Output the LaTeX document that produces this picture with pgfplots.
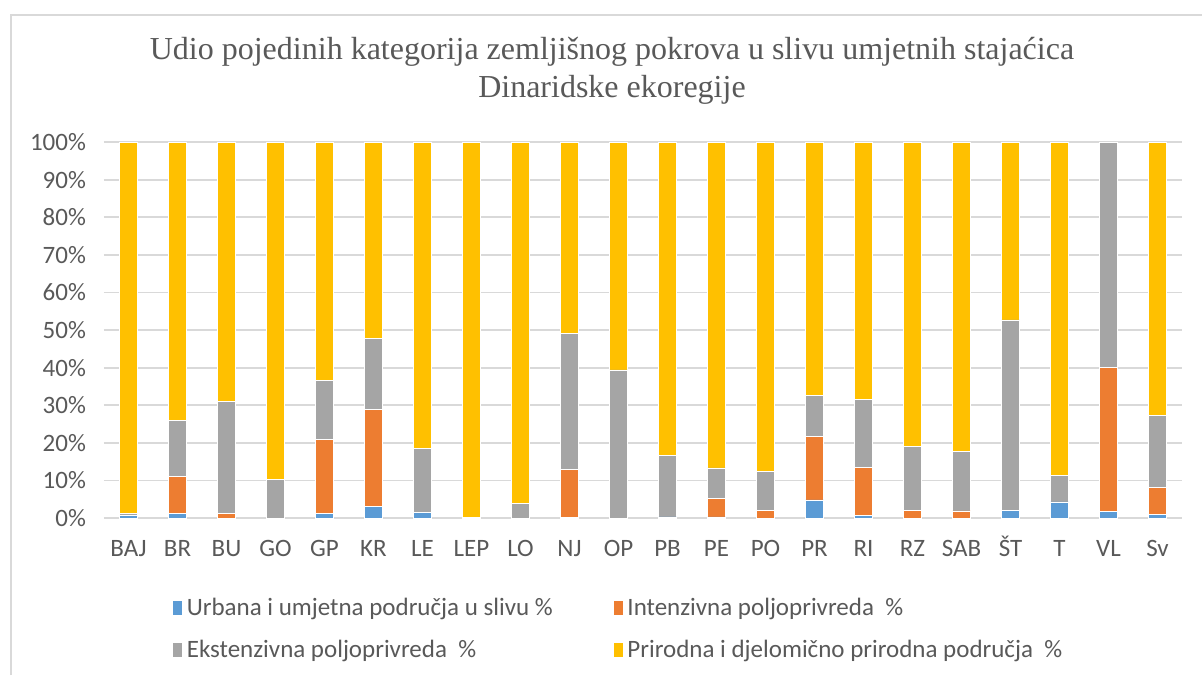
\documentclass[border=0pt]{standalone}
\usepackage{pgfplots}
\pgfplotsset{compat=1.18}
\usepackage{pgfplotstable}
\usepackage{fontspec}
\setmainfont{Carlito}
\newfontfamily\titlefont{Liberation Serif}
\definecolor{cUrb}{HTML}{5B9BD5}
\definecolor{cInt}{HTML}{ED7D31}
\definecolor{cExt}{HTML}{A5A5A5}
\definecolor{cNat}{HTML}{FFC000}
\definecolor{txt}{HTML}{595959}
\definecolor{grd}{HTML}{D9D9D9}

\pgfplotstableread{
x lab urb int ext nat
0  BAJ 0.6 0.0 0.6 98.8
1  BR  1.2 9.8 15.0 74.0
2  BU  0.0 1.2 29.8 69.0
3  GO  0.0 0.0 10.3 89.7
4  GP  1.2 19.8 15.7 63.3
5  KR  3.1 25.8 18.9 52.2
6  LE  1.4 0.0 17.1 81.5
7  LEP 0.0 0.0 0.2 99.8
8  LO  0.0 0.0 3.8 96.2
9  NJ  0.2 12.8 36.1 50.9
10 OP  0.0 0.0 39.4 60.6
11 PB  0.3 0.0 16.3 83.4
12 PE  0.3 4.9 8.1 86.7
13 PO  0.0 2.0 10.3 87.7
14 PR  4.8 16.9 10.9 67.4
15 RI  0.6 12.9 18.0 68.5
16 RZ  0.0 2.0 17.0 81.0
17 SAB 0.0 1.9 15.9 82.2
18 ŠT  2.0 0.0 50.7 47.3
19 T   4.3 0.0 7.0 88.7
20 VL  1.8 38.2 59.8 0.2
21 Sv  0.9 7.2 19.2 72.7
}\datatable

\begin{document}
\begin{tikzpicture}
\begin{axis}[
  name=ax,
  scale only axis,
  width=539pt, height=188pt,
  ybar stacked,
  bar width=9pt,
  xmin=-0.5, xmax=21.5,
  ymin=0, ymax=100,
  xtick=data,
  xticklabels from table={\datatable}{lab},
  ytick={0,10,...,100},
  yticklabel={\pgfmathprintnumber{\tick}\%},
  /pgf/number format/assume math mode=true,
  ymajorgrids,
  grid style={grd, line width=0.9pt},
  axis x line*=bottom,
  axis y line*=left,
  x axis line style={draw=grd, line width=0.9pt},
  y axis line style={draw=none},
  major tick length=0pt,
  tick label style={font=\fontsize{12.5}{14}\selectfont, text=txt},
  yticklabel style={xshift=-5.5pt},
  xticklabel style={yshift=-5pt, text height=2.2ex, text depth=0.3ex},
  ytick style={draw=none}, xtick style={draw=none},
  legend style={
    at={(0.478,-0.19)}, anchor=north,
    draw=none,
    font=\fontsize{12.5}{14}\selectfont,
    text=txt,
    legend columns=2,
    /tikz/every even column/.append style={column sep=28pt},
    row sep=7pt,
  },
  legend cell align=left,
  legend image code/.code={\fill[#1] (0pt,-3.5pt) rectangle (5pt,4pt);},
  clip=false,
]
\addplot[fill=cUrb, draw=white, line width=0.3pt] table[x=x,y=urb]{\datatable};
\addplot[fill=cInt, draw=white, line width=0.3pt] table[x=x,y=int]{\datatable};
\addplot[fill=cExt, draw=white, line width=0.3pt] table[x=x,y=ext]{\datatable};
\addplot[fill=cNat, draw=white, line width=0.3pt] table[x=x,y=nat]{\datatable};
\legend{Urbana i umjetna područja u slivu \%,Intenzivna poljoprivreda \ \%,Ekstenzivna poljoprivreda \ \%,Prirodna i djelomično prirodna područja \ \%}
\end{axis}
\path[use as bounding box] ([xshift=-52pt,yshift=71pt]ax.north west) rectangle ([xshift=10pt,yshift=-78.5pt]ax.south east);
\draw[grd, line width=0.8pt] ([xshift=-46.5pt,yshift=-78.5pt]ax.south west) -- ([xshift=-46.5pt,yshift=63.5pt]ax.north west) -- ([xshift=10pt,yshift=63.5pt]ax.north east);
\node[font=\titlefont\fontsize{16}{19}\selectfont, text=txt, align=center, anchor=south] at ([xshift=-15.5pt,yshift=15.5pt]ax.north) {Udio pojedinih kategorija zemljišnog pokrova u slivu umjetnih stajaćica\\Dinaridske ekoregije};
\end{tikzpicture}
\end{document}
